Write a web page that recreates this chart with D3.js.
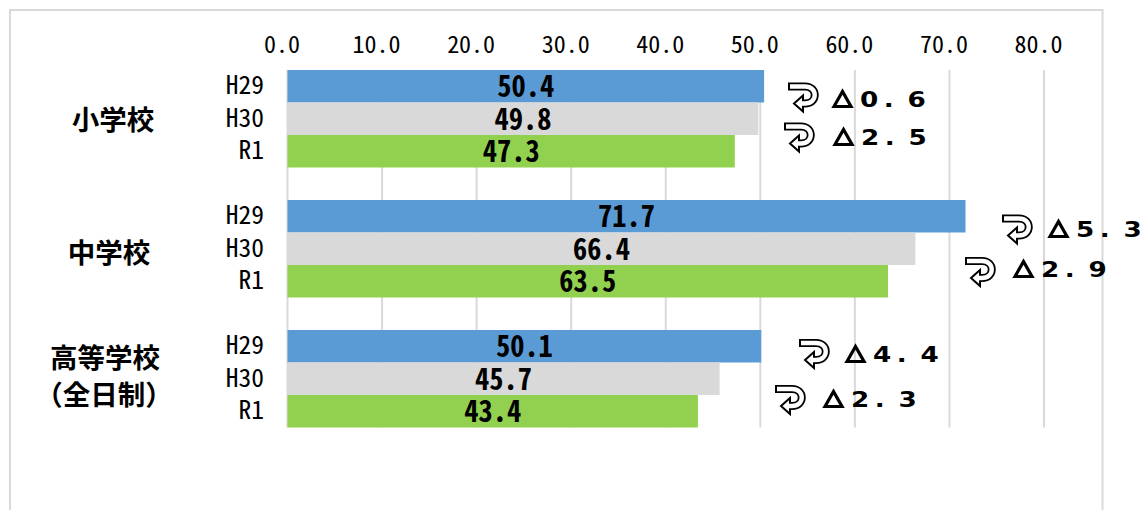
<!DOCTYPE html>
<html>
<head>
<meta charset="utf-8">
<script src="https://cdn.jsdelivr.net/npm/d3@7"></script>
<style>
  html, body { margin: 0; padding: 0; background: #fff; }
  svg { display: block; }
  text { fill: #000; }
  .half { font-family: "Noto Sans CJK JP", sans-serif; font-feature-settings: "hwid" 1; }
  .school { font-family: "Noto Sans CJK JP", sans-serif; font-weight: 700; font-size: 27.5px; }
  .delta { font-family: "DejaVu Sans", sans-serif; font-weight: 700; font-size: 21px; }
</style>
</head>
<body>
<svg id="chart" width="1141" height="510"></svg>
<script>
const schools = ["小学校", "中学校", "高等学校"];
const years = ["H29", "H30", "R1"];
const h29 = [50.4, 71.7, 50.1];
const h30 = [49.8, 66.4, 45.7];
const r1 = [47.3, 63.5, 43.4];
const xTicks = [0, 10, 20, 30, 40, 50, 60, 70, 80];
const changes = ["0.6", "2.5", "5.3", "2.9", "4.4", "2.3"];

const colors = ["#5B9BD5", "#D9D9D9", "#92D14F"];
const seriesValues = [h29, h30, r1];

const svg = d3.select("#chart");

// outer frame, bottom edge runs off the picture
svg.append("rect")
  .attr("x", 10).attr("y", 10)
  .attr("width", 1092.5).attr("height", 540)
  .attr("fill", "#fff").attr("stroke", "#D9D9D9").attr("stroke-width", 2);

const x = d3.scaleLinear().domain([0, 80]).range([287.5, 1044]);
const y0 = d3.scaleBand().domain(schools).range([70, 427.5]).paddingInner(0.25);
const y1 = d3.scaleBand().domain(years).range([0, y0.bandwidth()]);

// grid
svg.append("g")
  .selectAll("line")
  .data(xTicks)
  .join("line")
  .attr("x1", (d) => x(d)).attr("x2", (d) => x(d))
  .attr("y1", 70).attr("y2", 427.5)
  .attr("stroke", "#D9D9D9").attr("stroke-width", 2);

// top axis, labels sit a little left of their gridline
const xAxis = svg.append("g")
  .attr("transform", "translate(0,53)")
  .call(d3.axisTop(x).tickValues(xTicks).tickFormat(d3.format(".1f")).tickSize(0).tickPadding(0));
xAxis.select(".domain").remove();
xAxis.selectAll("text")
  .attr("class", "half")
  .attr("dx", -6)
  .style("font-size", "24px")
  .attr("fill", "#000");

const groups = svg.append("g")
  .selectAll("g")
  .data(schools)
  .join("g")
  .attr("transform", (d) => `translate(0,${y0(d)})`);

groups.each(function (school, i) {
  const g = d3.select(this);

  g.selectAll("rect")
    .data(years)
    .join("rect")
    .attr("x", x(0))
    .attr("y", (d) => y1(d))
    .attr("width", (d, j) => x(seriesValues[j][i]) - x(0))
    .attr("height", y1.bandwidth())
    .attr("fill", (d, j) => colors[j]);

  // squeezed a bit so the digits are as tall and narrow as the original
  g.selectAll("text.val")
    .data(years)
    .join("text")
    .attr("class", "val half")
    .attr("transform", (d, j) => `translate(${(x(0) + x(seriesValues[j][i])) / 2},${y1(d) + y1.bandwidth() / 2}) scale(0.95,1)`)
    .attr("dy", "0.36em")
    .attr("text-anchor", "middle")
    .style("font-size", "30px")
    .style("font-weight", 700)
    .text((d, j) => d3.format(".1f")(seriesValues[j][i]));

  const yAxis = g.append("g")
    .attr("transform", "translate(264,0)")
    .call(d3.axisLeft(y1).tickSize(0).tickPadding(0));
  yAxis.select(".domain").remove();
  yAxis.selectAll("text").attr("class", "half").style("font-size", "25.5px").attr("fill", "#000");
});

// school names
const nameCenters = [113, 109, 105];
const nameMiddles = [120, 253, 358];
svg.append("g")
  .selectAll("text")
  .data(schools)
  .join("text")
  .attr("class", "school")
  .attr("x", (d, i) => nameCenters[i])
  .attr("y", (d, i) => nameMiddles[i])
  .attr("dy", "0.36em")
  .attr("text-anchor", "middle")
  .text((d) => d);
svg.append("text")
  .attr("class", "school")
  .attr("x", 104).attr("y", 395).attr("dy", "0.36em")
  .attr("text-anchor", "middle")
  .text("（全日制）");

// change annotations: icon and triangle+number are placed separately
const iconLeft = [788, 784, 1002, 965, 799, 775];
const iconMiddle = [96.5, 136.5, 228.5, 271, 353, 399];
const deltaLeft = [832, 833, 1048, 1013, 845, 823];
const deltaMiddle = [99, 137, 229, 269, 354, 399];

const icons = svg.append("g")
  .selectAll("g")
  .data(changes)
  .join("g")
  .attr("transform", (d, i) => `translate(${iconLeft[i]},${iconMiddle[i]})`);

icons.append("path")
  .attr("d", "M0,-10 H17 C30,-10 30,7 17,7 H12")
  .attr("fill", "none").attr("stroke", "#000").attr("stroke-width", 8);
icons.append("path")
  .attr("d", "M6,7 L15,-1 V15 Z")
  .attr("fill", "#fff").attr("stroke", "#000").attr("stroke-width", 2).attr("stroke-linejoin", "miter");
icons.append("path")
  .attr("d", "M2,-10 H17 C30,-10 30,7 17,7 H11")
  .attr("fill", "none").attr("stroke", "#fff").attr("stroke-width", 4.4);

const deltas = svg.append("g")
  .selectAll("g")
  .data(changes)
  .join("g")
  .attr("transform", (d, i) => `translate(${deltaLeft[i]},${deltaMiddle[i]})`);

deltas.append("path")
  .attr("d", "M2,7.5 L10.5,-7.5 L19,7.5 Z")
  .attr("fill", "none").attr("stroke", "#000").attr("stroke-width", 3.2);
deltas.append("text")
  .attr("class", "delta")
  .attr("transform", "translate(28,7.5) scale(1.25,1)")
  .attr("x", "0 19 38")
  .text((d) => d);
</script>
</body>
</html>
